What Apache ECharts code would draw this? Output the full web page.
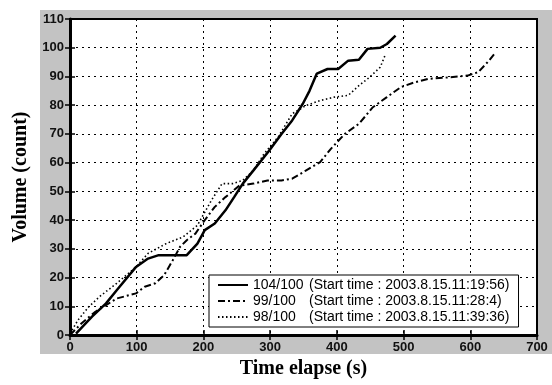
<!DOCTYPE html>
<html>
<head>
<meta charset="utf-8">
<script src="https://cdn.jsdelivr.net/npm/echarts@6/dist/echarts.min.js"></script>
<style>html,body{margin:0;padding:0;background:#fff}#c{width:552px;height:385px}</style>
</head>
<body>
<div id="c"></div>
<script>
// Data
const seriesNames = ['104/100', '99/100', '98/100'];
const startTimes = ['2003.8.15.11:19:56', '2003.8.15.11:28:4', '2003.8.15.11:39:36'];
const solidX = [9,33,54,70,99,117,133,149,175,191,202,217,233,246,259,275,299,317,333,349,359,370,386,402,417,433,446,465,475,488];
const solidY = [0.5,6.4,11,15.6,23.7,26.6,27.8,27.8,27.8,31.8,36.5,38.8,43.4,48,52.7,57.3,64.3,70,74.7,80.5,85,91,92.6,92.6,95.5,95.8,99.6,100,101.3,104.2];
const dashX = [0,17,38,54,70,99,112,128,141,154,165,175,188,202,217,233,254,275,296,317,333,354,375,391,412,433,454,475,496,517,538,570,596,612,628,638];
const dashY = [0,4,8.1,10.4,12.7,14.5,16.8,18,20.8,26,30.7,33,35.3,40,44.6,48,52,52.7,53.8,53.8,54.4,57.3,60.2,64.8,70,73.5,79.3,82.8,86.3,88,89.2,89.7,90.3,91.5,95.5,98.4];
const dotX = [0,12,28,44,70,99,117,144,170,191,212,228,244,259,275,291,312,333,354,375,396,417,433,449,465,473];
const dotY = [0.5,5.2,9.8,13.3,18,23.7,28.4,31.8,34.2,38.2,46.9,52.7,52.7,53.8,57.3,63.1,68.9,77,79.9,81.6,82.8,83.4,86.8,89.7,93.2,97.8];
const xTicks = {min: 0, max: 700, interval: 100};
const yTicks = {min: 0, max: 110, interval: 10};

const zip = (xs, ys) => xs.map((x, i) => [x, ys[i]]);
const chart = echarts.init(document.getElementById('c'), null, {renderer: 'canvas'});
const tickFont = {fontFamily: 'Liberation Sans, Arial', fontWeight: 'bold', fontSize: 13, color: '#111'};
const nameFont = {fontFamily: 'Liberation Serif, Times New Roman', fontWeight: 'bold', fontSize: 20, color: '#000'};
const grid = {left: 70, right: 15, top: 19, bottom: 50};
const splitDot = {show: true, lineStyle: {color: '#000', type: [2, 4], width: 1}};
const lineTypes = ['solid', [7, 3, 2, 3], [1.5, 2.5]];
const widths = [2.5, 2, 1.6];
const data = [zip(solidX, solidY), zip(dashX, dashY), zip(dotX, dotY)];
const legFont = {fontFamily: 'Liberation Sans, Arial', fontSize: 14, color: '#000'};

chart.setOption({
  animation: false,
  backgroundColor: '#fff',
  graphic: [
    {type: 'rect', shape: {x: 40, y: 10, width: 512, height: 344}, style: {fill: '#c3c3c3'}, z: -10, silent: true},
    {type: 'rect', shape: {x: grid.left, y: grid.top, width: 552 - grid.left - grid.right, height: 385 - grid.top - grid.bottom}, style: {fill: '#fff', stroke: '#000', lineWidth: 2}, z: -5, silent: true}
  ],
  grid: grid,
  legend: {
    orient: 'vertical', left: 209, top: 275,
    itemWidth: 30, itemHeight: 14, itemGap: 2,
    backgroundColor: '#fff', borderColor: '#000', borderWidth: 1,
    padding: [3, 9, 3, 8],
    itemStyle: {color: 'rgba(0,0,0,0)', borderColor: 'rgba(0,0,0,0)', borderWidth: 0},
    data: seriesNames,
    formatter: function (name) {
      const i = seriesNames.indexOf(name);
      return '{a|' + name + '}{b|(Start time : ' + startTimes[i] + ')}';
    },
    textStyle: Object.assign({
      rich: {a: Object.assign({width: 56}, legFont), b: legFont}
    }, legFont)
  },
  xAxis: [{
    type: 'value', min: xTicks.min, max: xTicks.max, interval: xTicks.interval,
    name: 'Time elapse (s)', nameLocation: 'middle', nameGap: 23,
    nameTextStyle: nameFont,
    axisLine: {show: true, onZero: false, lineStyle: {color: '#000', width: 3}},
    axisTick: {show: true, inside: true, length: 5, lineStyle: {color: '#000', width: 1.5}},
    axisLabel: Object.assign({margin: 6}, tickFont),
    splitLine: splitDot
  }, {
    type: 'value', position: 'top', min: xTicks.min, max: xTicks.max, interval: xTicks.interval,
    axisLine: {show: true, lineStyle: {color: '#000', width: 2}},
    axisTick: {show: true, inside: true, length: 5, lineStyle: {color: '#000', width: 1.5}},
    axisLabel: {show: false}, splitLine: {show: false}
  }],
  yAxis: [{
    type: 'value', min: yTicks.min, max: yTicks.max, interval: yTicks.interval,
    name: 'Volume (count)', nameLocation: 'middle', nameGap: 39, nameRotate: 90,
    nameTextStyle: nameFont,
    axisLine: {show: true, onZero: false, lineStyle: {color: '#000', width: 3}},
    axisTick: {show: true, inside: true, length: 5, lineStyle: {color: '#000', width: 1.5}},
    axisLabel: Object.assign({margin: 6}, tickFont),
    splitLine: splitDot
  }, {
    type: 'value', position: 'right', min: yTicks.min, max: yTicks.max, interval: yTicks.interval,
    axisLine: {show: true, lineStyle: {color: '#000', width: 2}},
    axisTick: {show: true, inside: true, length: 5, lineStyle: {color: '#000', width: 1.5}},
    axisLabel: {show: false}, splitLine: {show: false}
  }],
  series: seriesNames.map((n, i) => ({
    name: n, type: 'line', data: data[i], symbol: 'none', showSymbol: false,
    lineStyle: {color: '#000', width: widths[i], type: lineTypes[i]},
    itemStyle: {color: '#000'},
    z: 3 - i
  }))
});
</script>
</body>
</html>
